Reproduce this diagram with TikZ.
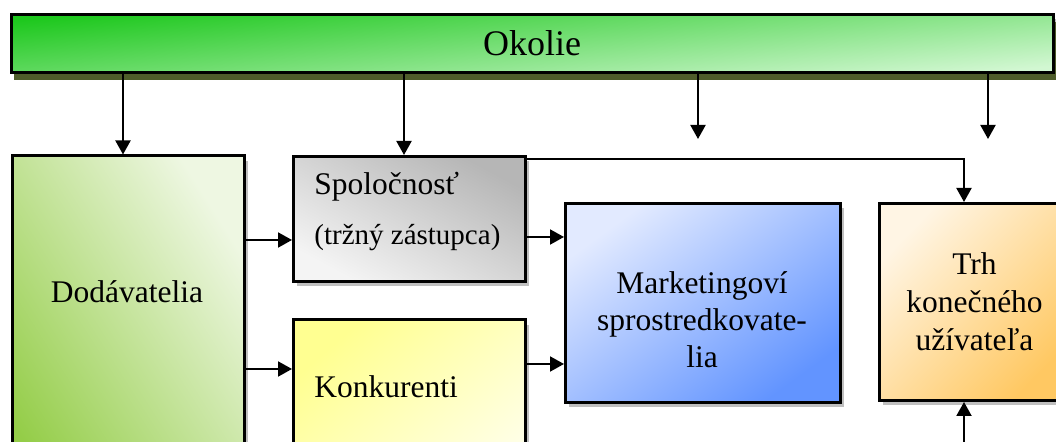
\documentclass[tikz,border=0pt]{standalone}
\usepackage{fontspec}
\setmainfont{Liberation Serif}
\usepackage{tikz}
\usetikzlibrary{positioning}
\usetikzlibrary{shadows}
\usetikzlibrary{arrows.meta}
\definecolor{okdark}{RGB}{30,200,30}
\definecolor{oklight}{RGB}{210,247,210}
\definecolor{okshadow}{RGB}{78,92,42}
\definecolor{doddark}{RGB}{148,205,72}
\definecolor{dodlight}{RGB}{238,247,226}
\definecolor{spoldark}{RGB}{182,182,182}
\definecolor{spollight}{RGB}{244,244,244}
\definecolor{konkdark}{RGB}{255,255,145}
\definecolor{konklight}{RGB}{255,255,238}
\definecolor{marklight}{RGB}{226,234,255}
\definecolor{markdark}{RGB}{98,148,255}
\definecolor{trhlight}{RGB}{255,245,228}
\definecolor{trhdark}{RGB}{255,200,98}
\tikzset{
    Box/.style = {rectangle, draw=black, line width=1.5pt, inner sep=0pt,
        drop shadow={shadow xshift=1.5pt, shadow yshift=-2.5pt, fill=black!25, opacity=1}}
}
\tikzset{
    Edge/.style = {draw=black, line width=1pt, -{Triangle[width=7.5pt,length=7pt]}}
}

\begin{document}
\begin{tikzpicture}[
    x=0.5pt, y=-0.5pt,
    font=\fontsize{15.75}{18.5}\selectfont
]
\tikzset{
    okbox/.style = {Box, top color=okdark, bottom color=oklight, shading angle=5.5,
        drop shadow={shadow xshift=1.5pt, shadow yshift=-3.75pt, fill=okshadow, opacity=1}},
    TextL/.style = {anchor=west, inner sep=0pt},
}
\useasboundingbox (0,0) rectangle (1056,442);
% boxes
\node[okbox, minimum width=521pt, minimum height=29pt, font=\fontsize{18}{21}\selectfont]
    at (532,43.5) (okolie) {Okolie};
\node[Box, anchor=north, minimum width=116pt, minimum height=185pt,
    bottom color=doddark, top color=dodlight, shading angle=-57.6] at (128.5,154.5) (dod) {};
\node[Box, minimum width=116pt, minimum height=62.5pt,
    bottom color=spollight, top color=spoldark, shading angle=-28.3] at (409.5,219) (spol) {};
\node[Box, anchor=north, minimum width=116pt, minimum height=100pt,
    top color=konkdark, bottom color=konklight, shading angle=41] at (409.5,318.5) (konk) {};
\node[Box, minimum width=137.5pt, minimum height=99.5pt,
    top color=marklight, bottom color=markdark, shading angle=36] at (703,303) (mark) {};
\node[Box, minimum width=95pt, minimum height=98.5pt, align=center,
    font=\fontsize{15.75}{19}\selectfont,
    top color=trhlight, bottom color=trhdark, shading angle=46] at (974.5,302) (trh)
    {Trh\\konečného\\užívateľa};
% texts
\node at (127,292) (tdod) {Dodávatelia};
\node[TextL] at (314,187) (tspol) {Spoločnosť};
\node[TextL, font=\fontsize{14.5}{17}\selectfont] at (314,238) (tzast) {(tržný zástupca)};
\node[TextL] at (314,387) (tkonk) {Konkurenti};
\node[align=center] at (702,320) (tmark) {Marketingoví\\sprostredkovate-\\lia};
% free ends
\coordinate (f1) at (698,139);
\coordinate (f2) at (988,139);
\coordinate (bot) at (964,460);
% connectors
\path ([xshift=-2.75pt]dod.north |- okolie.south) edge [Edge] ([xshift=-2.75pt]dod.north);
\path ([xshift=-2.75pt]spol.north |- okolie.south) edge [Edge] ([xshift=-2.75pt]spol.north);
\path (f1 |- okolie.south) edge [Edge] (f1);
\path (f2 |- okolie.south) edge [Edge] (f2);
\path ([yshift=-10.5pt]spol.west -| dod.east) edge [Edge] ([yshift=-10.5pt]spol.west);
\path ([yshift=-25.25pt]konk.north west -| dod.east) edge [Edge] ([yshift=-25.25pt]konk.north west);
\path ([yshift=-9pt]spol.east) edge [Edge] ([yshift=-9pt]spol.east -| mark.west);
\path ([yshift=-22.75pt]konk.north east) edge [Edge] ([yshift=-22.75pt]konk.north east -| mark.west);
\draw[Edge] ([yshift=-2.25pt]spol.north east) -| ([xshift=-5.25pt]trh.north);
\path (bot) edge [Edge] (bot |- trh.south);
\end{tikzpicture}
\end{document}
